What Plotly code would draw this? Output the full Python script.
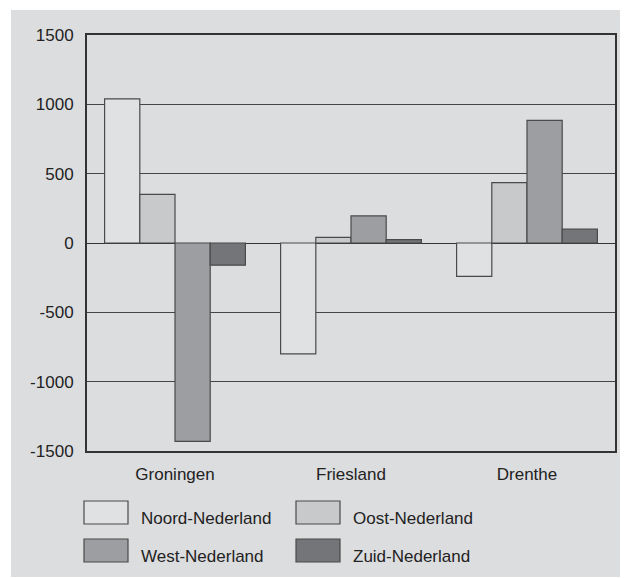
import plotly.graph_objects as go

categories = ["Groningen", "Friesland", "Drenthe"]
series_names = ["Noord-Nederland", "Oost-Nederland", "West-Nederland", "Zuid-Nederland"]
noord = [1040, -800, -240]
oost = [350, 40, 435]
west = [-1430, 195, 885]
zuid = [-160, 25, 100]
tick_vals = [-1500, -1000, -500, 0, 500, 1000, 1500]
tick_text = ["-1500", "-1000", "-500", "0", "500", "1000", "1500"]
colors = ["#e0e1e3", "#c8c9cb", "#9d9ea2", "#747579"]

values = [noord, oost, west, zuid]

fig = go.Figure()
for name, vals, col in zip(series_names, values, colors):
    fig.add_trace(go.Bar(
        x=categories, y=vals, name=name,
        marker=dict(color=col, line=dict(color="#4a4a4a", width=1.2)),
        showlegend=False,
    ))

font = "Liberation Sans, Arial, sans-serif"
OFF = 8  # browser body margin

L, T, R, B = 87 - OFF, 35 - OFF, 615 - OFF, 451 - OFF
W, H = 628 - OFF, 578 - OFF

fig.update_layout(
    width=W, height=H,
    margin=dict(l=L, r=W - R, t=T, b=H - B),
    paper_bgcolor="white",
    plot_bgcolor="white",
    barmode="group",
    bargap=0.2,
    bargroupgap=0,
    font=dict(family=font, size=17, color="#222222"),
    xaxis=dict(
        showline=True, linecolor="#333333", linewidth=2, mirror=True,
        ticks="", tickfont=dict(size=17, color="#222222"),
        showgrid=False, ticklabelstandoff=7,
    ),
    yaxis=dict(
        range=[-1500, 1500], tickvals=tick_vals, ticktext=tick_text,
        showline=True, linecolor="#333333", linewidth=2, mirror=True,
        ticks="", showgrid=True, gridcolor="#444444", gridwidth=1,
        zeroline=True, zerolinecolor="#333333", zerolinewidth=1.3,
        tickfont=dict(size=17, color="#222222"),
        ticklabelstandoff=8,
    ),
)

pw, ph = float(R - L), float(B - T)
def px_x(x):
    return (x - OFF - L) / pw
def px_y(y):
    return (B - (y - OFF)) / ph

shapes = [dict(type="rect", xref="paper", yref="paper", layer="below",
               x0=px_x(11), x1=px_x(640), y0=px_y(577), y1=px_y(10),
               fillcolor="#dcdddf", line=dict(width=0))]

positions = [(84, 501), (296, 501), (84, 539), (296, 539)]
for (sx, sy), name, col in zip(positions, series_names, colors):
    shapes.append(dict(type="rect", xref="paper", yref="paper",
                       x0=px_x(sx), x1=px_x(sx + 44), y0=px_y(sy + 23), y1=px_y(sy),
                       fillcolor=col, line=dict(color="#4a4a4a", width=1.2)))
    fig.add_annotation(xref="paper", yref="paper", x=px_x(sx + 55), y=px_y(sy + 17),
                       text=name, showarrow=False, xanchor="left", yanchor="middle",
                       font=dict(size=17, color="#222222", family=font))
fig.update_layout(shapes=shapes)

fig.write_html("out.html")
